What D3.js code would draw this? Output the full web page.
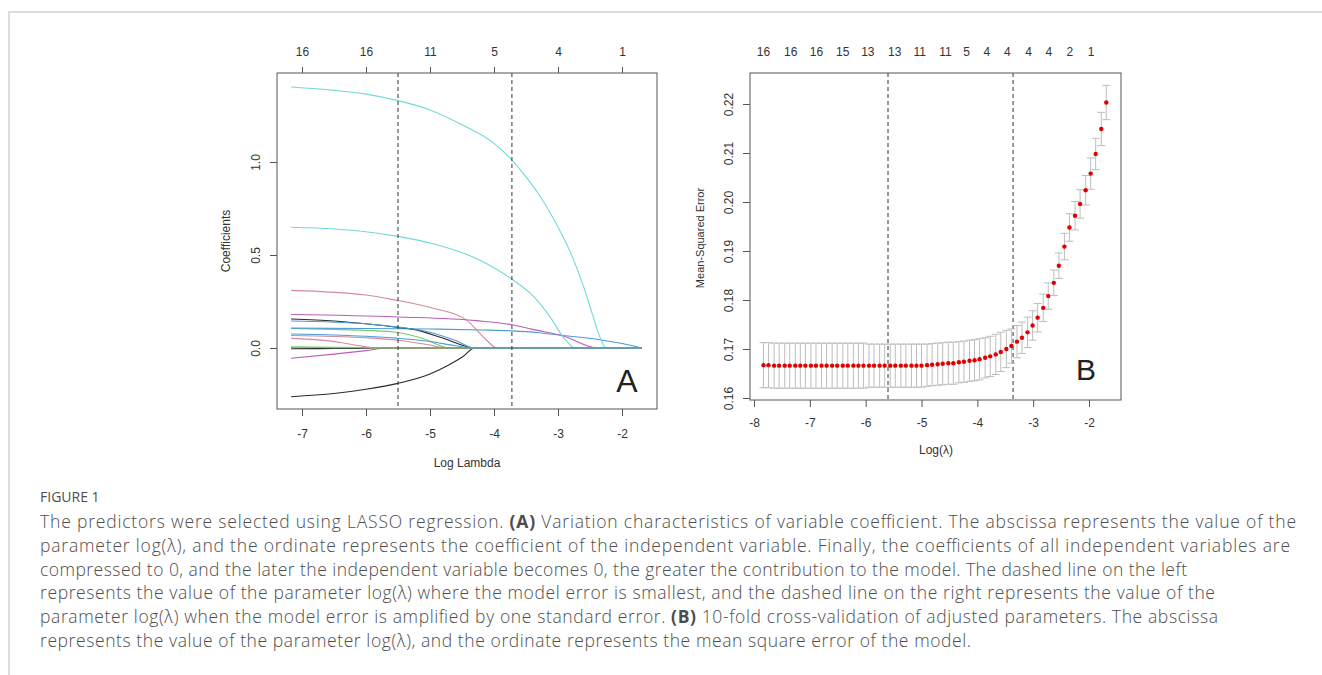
<!DOCTYPE html>
<html>
<head>
<meta charset="utf-8">
<script src="https://cdn.jsdelivr.net/npm/d3@7"></script>
<style>
body { margin: 0; background: #fff; }
svg text { font-family: "Liberation Sans", Arial, sans-serif; }
.cap { font-family: "Open Sans", Lato, sans-serif; }
</style>
</head>
<body>
<div id="chart"></div>
<script>
// ---- panel A: coefficient paths ----
const coefXTicks = [-7, -6, -5, -4, -3, -2];
const coefYTicks = [0, 0.5, 1];
const coefTopTicks = [-7, -6, -5, -4, -3, -2];
const coefTopLabels = ["16", "16", "11", "5", "4", "1"];
const coefLambdaLines = [-5.5, -3.72];

// one path per variable, [log lambda, coefficient], in drawing order
const coefPaths = [
    [[-7.17, -0.262], [-6.5, -0.245], [-6, -0.222], [-5.5, -0.19], [-5, -0.14], [-4.7, -0.09], [-4.5, -0.05], [-4.3, 0], [-1.69, 0]],
    [[-7.17, 0.31], [-6, 0.285], [-5.5, 0.255], [-4.95, 0.214], [-4.43, 0.15], [-4.27, 0.097], [-4.12, 0.043], [-3.95, 0], [-1.69, 0]],
    [[-7.17, 0.105], [-6.5, 0.1], [-6, 0.095], [-5.5, 0.083], [-5.1, 0.05], [-4.7, 0], [-1.69, 0]],
    [[-7.17, 0.107], [-6, 0.105], [-5, 0.102], [-4.2, 0.097], [-3.72, 0.092], [-3.3, 0.082], [-2.92, 0.067], [-2.37, 0.046], [-2, 0.024], [-1.69, 0]],
    [[-7.17, 1.403], [-6.5, 1.385], [-6, 1.365], [-5.5, 1.33], [-5, 1.28], [-4.5, 1.2], [-4, 1.1], [-3.72, 1.01], [-3.5, 0.92], [-3.25, 0.8], [-3, 0.65], [-2.8, 0.51], [-2.6, 0.33], [-2.47, 0.19], [-2.34, 0.055], [-2.25, 0], [-1.69, 0]],
    [[-7.17, 0.18], [-5.5, 0.167], [-4.27, 0.147], [-3.72, 0.125], [-3.39, 0.1], [-2.92, 0.065], [-2.37, 0], [-1.69, 0]],
    [[-7.17, 0.156], [-6.5, 0.145], [-6, 0.13], [-5.5, 0.111], [-5.26, 0.1], [-4.79, 0.052], [-4.3, 0], [-1.69, 0]],
    [[-7.17, 0.067], [-6.5, 0.062], [-6, 0.055], [-5.5, 0.042], [-5, 0.016], [-4.75, 0], [-1.69, 0]],
    [[-7.17, 0.006], [-6.5, 0.004], [-5.9, 0.002], [-5.7, 0], [-1.69, 0]],
    [[-7.17, 0.145], [-6, 0.13], [-5.5, 0.112], [-5, 0.085], [-4.6, 0.04], [-4.3, 0], [-1.69, 0]],
    [[-7.17, 0.649], [-6.5, 0.64], [-6, 0.625], [-5.5, 0.6], [-4.95, 0.56], [-4.27, 0.48], [-3.72, 0.37], [-3.39, 0.28], [-3.13, 0.17], [-2.92, 0.06], [-2.73, 0], [-1.69, 0]],
    [[-7.17, -0.055], [-6.5, -0.033], [-6, -0.014], [-5.65, 0], [-1.69, 0]],
    [[-7.17, -0.004], [-6.5, -0.003], [-6, -0.001], [-5.92, 0], [-1.69, 0]],
    [[-7.17, 0.052], [-6.8, 0.045], [-6.4, 0.03], [-6.1, 0.012], [-5.85, 0], [-1.69, 0]],
    [[-7.17, 0.003], [-6.5, 0.002], [-6, 0.001], [-5.62, 0], [-1.69, 0]],
    [[-7.17, 0.075], [-6.5, 0.07], [-6, 0.063], [-5.5, 0.052], [-5, 0.035], [-4.6, 0.012], [-4.3, 0], [-1.69, 0]]
];
const coefPalette = ["#2a2a2a", "#d4899c", "#74cc64", "#4d9bd4", "#72d8dc", "#b95cbb"];

// ---- panel B: cross-validation curve ----
const cvXTicks = [-8, -7, -6, -5, -4, -3, -2];
const cvYTicks = [0.16, 0.17, 0.18, 0.19, 0.20, 0.21, 0.22];
const cvTopPos = [-7.84, -7.35, -6.89, -6.42, -5.97, -5.49, -5.04, -4.58, -4.2, -3.84, -3.47, -3.09, -2.73, -2.35, -1.97];
const cvTopLabels = ["16", "16", "16", "15", "13", "13", "11", "11", "5", "4", "4", "4", "4", "2", "1"];
const cvLambdaLines = [-5.6, -3.36];

const cvLogLambda = [
    -7.83, -7.74, -7.64, -7.55, -7.45, -7.36, -7.26, -7.17, -7.08, -6.98,
    -6.89, -6.79, -6.70, -6.60, -6.51, -6.41, -6.32, -6.22, -6.13, -6.04,
    -5.94, -5.85, -5.75, -5.66, -5.56, -5.47, -5.37, -5.28, -5.18, -5.09,
    -5.00, -4.90, -4.81, -4.71, -4.62, -4.52, -4.43, -4.33, -4.24, -4.14,
    -4.05, -3.96, -3.86, -3.77, -3.67, -3.58, -3.48, -3.39, -3.29, -3.20,
    -3.10, -3.01, -2.92, -2.82, -2.73, -2.63, -2.54, -2.44, -2.35, -2.25,
    -2.16, -2.06, -1.97, -1.88, -1.78, -1.69
];
const cvMse = [
    0.1667, 0.1667, 0.1666, 0.1666, 0.1666, 0.1666, 0.1666, 0.1666, 0.1666, 0.1666,
    0.1666, 0.1666, 0.1666, 0.1666, 0.1666, 0.1666, 0.1666, 0.1666, 0.1666, 0.1666,
    0.1666, 0.1666, 0.1666, 0.1666, 0.1666, 0.1666, 0.1666, 0.1666, 0.1666, 0.1666,
    0.1666, 0.1667, 0.1668, 0.1669, 0.1670, 0.1671, 0.1671, 0.1673, 0.1674, 0.1676,
    0.1677, 0.1679, 0.1682, 0.1685, 0.1689, 0.1694, 0.1700, 0.1706, 0.1715, 0.1723,
    0.1734, 0.1748, 0.1764, 0.1784, 0.1808, 0.1835, 0.1870, 0.1909, 0.1948, 0.1972,
    0.1996, 0.2024, 0.2058, 0.2098, 0.2149, 0.2203
];
const cvSe = [
    0.0046, 0.0046, 0.0046, 0.0046, 0.0046, 0.0046, 0.0046, 0.0046, 0.0046, 0.0046,
    0.0046, 0.0046, 0.0046, 0.0046, 0.0046, 0.0046, 0.0046, 0.0046, 0.0046, 0.0046,
    0.0044, 0.0044, 0.0044, 0.0044, 0.0044, 0.0044, 0.0044, 0.0044, 0.0044, 0.0044,
    0.0044, 0.0043, 0.0043, 0.0043, 0.0043, 0.0043, 0.0043, 0.0042, 0.0042, 0.0042,
    0.0042, 0.0042, 0.0041, 0.0041, 0.0041, 0.0040, 0.0038, 0.0035, 0.0033, 0.0032,
    0.0031, 0.0030, 0.0029, 0.0028, 0.0027, 0.0026, 0.0026, 0.0027, 0.0028, 0.0029,
    0.0029, 0.0030, 0.0032, 0.0032, 0.0034, 0.0035
];

// ---- caption ----
const captionTitle = "FIGURE 1";
const captionLines = [
    [["The predictors were selected using LASSO regression. ", false], ["(A)", true], [" Variation characteristics of variable coefficient. The abscissa represents the value of the", false]],
    [["parameter log(λ), and the ordinate represents the coefficient of the independent variable. Finally, the coefficients of all independent variables are", false]],
    [["compressed to 0, and the later the independent variable becomes 0, the greater the contribution to the model. The dashed line on the left", false]],
    [["represents the value of the parameter log(λ) where the model error is smallest, and the dashed line on the right represents the value of the", false]],
    [["parameter log(λ) when the model error is amplified by one standard error. ", false], ["(B)", true], [" 10-fold cross-validation of adjusted parameters. The abscissa", false]],
    [["represents the value of the parameter log(λ), and the ordinate represents the mean square error of the model.", false]]
];
const captionWidths = [1256, 1250, 1147, 1175, 1178, 931];

const width = 1322, height = 675;
const svg = d3.select("#chart")
    .append("svg")
    .attr("width", width)
    .attr("height", height);

// page frame
svg.append("path")
    .attr("d", `M9,${height} V12 H${width}`)
    .attr("fill", "none")
    .attr("stroke", "#dcdcdc")
    .attr("stroke-width", 2);

function styleAxis(g) {
    g.attr("font-size", 12).attr("font-family", null);
    g.selectAll("line").attr("stroke", "#555");
    g.selectAll("text").attr("fill", "#333");
    g.select(".domain").remove();
}

function drawBox(b) {
    svg.append("rect")
        .attr("x", b.left).attr("y", b.top)
        .attr("width", b.right - b.left).attr("height", b.bottom - b.top)
        .attr("fill", "none").attr("stroke", "#555").attr("stroke-width", 1);
}

// ===== panel A =====
const boxA = { left: 277, right: 657, top: 73, bottom: 409 };
const xA = d3.scaleLinear().domain([-7, -2]).range([302, 622]);
const yA = d3.scaleLinear().domain([0, 1]).range([348, 162]);

const line = d3.line()
    .x(d => xA(d[0]))
    .y(d => yA(d[1]))
    .curve(d3.curveMonotoneX);

svg.append("g")
    .selectAll("path")
    .data(coefPaths)
    .enter()
    .append("path")
    .attr("d", line)
    .attr("fill", "none")
    .attr("stroke", (d, i) => coefPalette[i % 6])
    .attr("stroke-width", 1.1);

svg.selectAll(".vlA")
    .data(coefLambdaLines)
    .enter()
    .append("line")
    .attr("x1", d => xA(d)).attr("x2", d => xA(d))
    .attr("y1", boxA.top).attr("y2", boxA.bottom)
    .attr("stroke", "#333").attr("stroke-dasharray", "4,3");

drawBox(boxA);

svg.append("g")
    .attr("transform", `translate(0, ${boxA.bottom})`)
    .call(d3.axisBottom(xA).tickValues(coefXTicks).tickFormat(d => String(d)).tickSize(7).tickPadding(13))
    .call(styleAxis);

svg.append("g")
    .attr("transform", `translate(0, ${boxA.top})`)
    .call(d3.axisTop(xA).tickValues(coefTopTicks).tickFormat((d, i) => coefTopLabels[i]).tickSize(6).tickPadding(11))
    .call(styleAxis);

svg.append("g")
    .attr("transform", `translate(${boxA.left}, 0)`)
    .call(d3.axisLeft(yA).tickValues(coefYTicks).tickFormat(d3.format(".1f")).tickSize(7))
    .call(styleAxis)
    .call(g => g.selectAll("text")
        .attr("transform", "rotate(-90)")
        .attr("x", 0).attr("y", -17).attr("dy", null)
        .attr("text-anchor", "middle"));

svg.append("text")
    .attr("x", 467).attr("y", 467)
    .attr("text-anchor", "middle").attr("font-size", 12).attr("fill", "#333")
    .text("Log Lambda");

svg.append("text")
    .attr("transform", "translate(230, 241) rotate(-90)")
    .attr("text-anchor", "middle").attr("font-size", 12).attr("fill", "#333")
    .text("Coefficients");

svg.append("text")
    .attr("x", 627).attr("y", 392)
    .attr("text-anchor", "middle").attr("font-size", 32).attr("fill", "#222")
    .attr("font-family", "Roboto, sans-serif")
    .text("A");

// ===== panel B =====
const boxB = { left: 750, right: 1121, top: 73, bottom: 400 };
const xB = d3.scaleLinear().domain([-8, -2]).range([754, 1089]);
const yB = d3.scaleLinear().domain([0.16, 0.22]).range([398, 104]);

const cvData = cvLogLambda.map((l, i) => ({ l: l, m: cvMse[i], s: cvSe[i] }));

svg.selectAll(".vlB")
    .data(cvLambdaLines)
    .enter()
    .append("line")
    .attr("x1", d => xB(d)).attr("x2", d => xB(d))
    .attr("y1", boxB.top).attr("y2", boxB.bottom)
    .attr("stroke", "#333").attr("stroke-dasharray", "4,3");

const bars = svg.append("g")
    .attr("stroke", "#bdbdbd")
    .attr("stroke-width", 1)
    .selectAll("g")
    .data(cvData)
    .enter()
    .append("g");

bars.append("line")
    .attr("x1", d => xB(d.l)).attr("x2", d => xB(d.l))
    .attr("y1", d => yB(d.m + d.s)).attr("y2", d => yB(d.m - d.s));
bars.append("line")
    .attr("x1", d => xB(d.l) - 4).attr("x2", d => xB(d.l) + 4)
    .attr("y1", d => yB(d.m + d.s)).attr("y2", d => yB(d.m + d.s));
bars.append("line")
    .attr("x1", d => xB(d.l) - 4).attr("x2", d => xB(d.l) + 4)
    .attr("y1", d => yB(d.m - d.s)).attr("y2", d => yB(d.m - d.s));

svg.append("g")
    .selectAll("circle")
    .data(cvData)
    .enter()
    .append("circle")
    .attr("cx", d => xB(d.l))
    .attr("cy", d => yB(d.m))
    .attr("r", 2.2)
    .attr("fill", "#e00000");

drawBox(boxB);

svg.append("g")
    .attr("transform", `translate(0, ${boxB.bottom})`)
    .call(d3.axisBottom(xB).tickValues(cvXTicks).tickFormat(d => String(d)).tickSize(7).tickPadding(11))
    .call(styleAxis);

svg.append("g")
    .attr("transform", `translate(0, ${boxB.top})`)
    .call(d3.axisTop(xB).tickValues(cvTopPos).tickFormat((d, i) => cvTopLabels[i]).tickSize(0).tickPadding(17))
    .call(styleAxis);

svg.append("g")
    .attr("transform", `translate(${boxB.left}, 0)`)
    .call(d3.axisLeft(yB).tickValues(cvYTicks).tickFormat(d3.format(".2f")).tickSize(7))
    .call(styleAxis)
    .call(g => g.selectAll("text")
        .attr("transform", "rotate(-90)")
        .attr("x", 0).attr("y", -17).attr("dy", null)
        .attr("text-anchor", "middle"));

svg.append("text")
    .attr("x", 936).attr("y", 454)
    .attr("text-anchor", "middle").attr("font-size", 12).attr("fill", "#333")
    .text("Log(λ)");

svg.append("text")
    .attr("transform", "translate(704, 238) rotate(-90)")
    .attr("text-anchor", "middle").attr("font-size", 11).attr("fill", "#333")
    .text("Mean-Squared Error");

svg.append("text")
    .attr("x", 1086).attr("y", 380)
    .attr("text-anchor", "middle").attr("font-size", 30).attr("fill", "#222")
    .attr("font-family", "Roboto, sans-serif")
    .text("B");

// ===== caption =====
svg.append("text")
    .attr("class", "cap")
    .attr("x", 40).attr("y", 502)
    .attr("font-size", 14).attr("fill", "#4d4d4d")
    .text(captionTitle);

captionLines.forEach((segs, i) => {
    const t = svg.append("text")
        .attr("class", "cap")
        .attr("x", 40).attr("y", 528 + i * 23.8)
        .attr("font-size", 17.5).attr("font-weight", 300).attr("fill", "#4d4d4d")
        .attr("textLength", captionWidths[i])
        .attr("lengthAdjust", "spacing");
    segs.forEach(s => {
        t.append("tspan")
            .attr("font-weight", s[1] ? "bold" : null)
            .text(s[0]);
    });
});
</script>
</body>
</html>
